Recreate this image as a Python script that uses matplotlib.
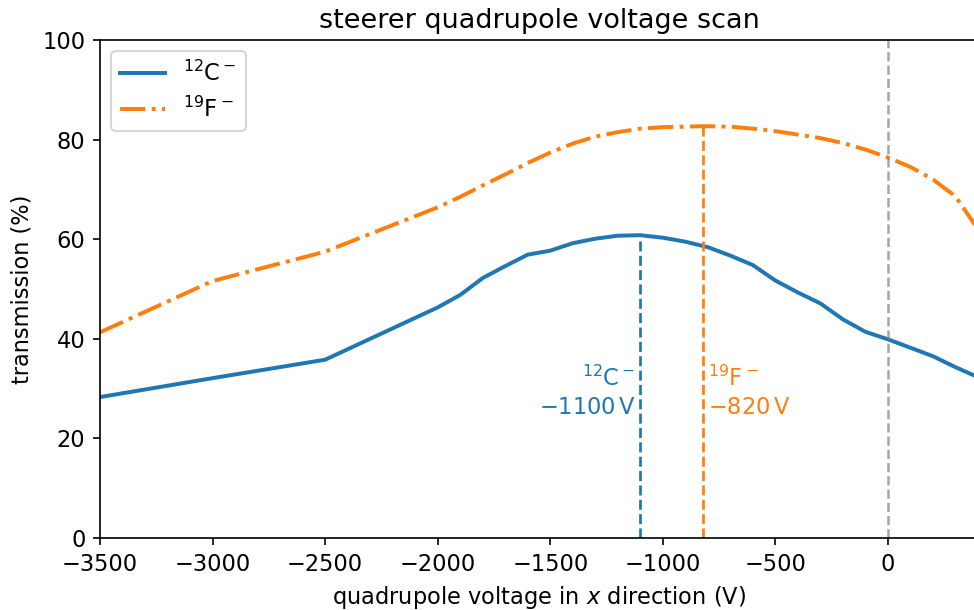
import numpy as np
import matplotlib
matplotlib.use("Agg")
import matplotlib.pyplot as plt

# quadrupole voltage (V) and transmission (%) for each ion species
volt_c = [-3500, -3000, -2500, -2000, -1900, -1800, -1700, -1600, -1500, -1400,
          -1300, -1200, -1100, -1000, -900, -800, -700, -600, -500, -400,
          -300, -200, -100, 0, 100, 200, 300, 400]
trans_c = [28.3, 32.1, 35.8, 46.3, 48.8, 52.2, 54.6, 56.9, 57.7, 59.2,
           60.1, 60.7, 60.8, 60.3, 59.5, 58.4, 56.7, 54.8, 51.7, 49.3,
           47.1, 43.9, 41.4, 39.9, 38.2, 36.5, 34.3, 32.3]

volt_f = [-3500, -3000, -2500, -2000, -1900, -1800, -1700, -1600, -1500, -1400,
          -1300, -1200, -1100, -1000, -900, -820, -700, -600, -500, -400,
          -300, -200, -100, 0, 100, 200, 300, 400]
trans_f = [41.3, 51.6, 57.5, 66.4, 68.5, 70.8, 73.0, 75.3, 77.4, 79.2,
           80.6, 81.5, 82.2, 82.5, 82.6, 82.7, 82.6, 82.2, 81.7, 81.0,
           80.3, 79.3, 78.0, 76.4, 74.5, 72.0, 68.6, 62.0]

labels = [r"$^{12}$C$^-$", r"$^{19}$F$^-$"]

plt.rcParams["font.size"] = 10.8

fig = plt.figure(figsize=(974 / 150, 610 / 150), dpi=150)
ax = fig.add_axes([100 / 974, 72 / 610, 878 / 974, 498 / 610])

ax.plot(volt_c, trans_c, "-", color="C0", lw=1.9, label=labels[0])
ax.plot(volt_f, trans_f, "-.", color="C1", lw=1.9, label=labels[1])

ax.axvline(0, color="gray", ls="--", lw=1.2, alpha=0.7)

# mark the transmission maximum of each species
i_c = int(np.argmax(trans_c))
i_f = int(np.argmax(trans_f))
ax.vlines(volt_c[i_c], 0, trans_c[i_c], colors="C0", linestyles="--", lw=1.3)
ax.vlines(volt_f[i_f], 0, trans_f[i_f], colors="C1", linestyles="--", lw=1.3)
ax.text(volt_c[i_c] - 20, 29.2, labels[0] + "\n" + rf"$-{abs(volt_c[i_c])}\,$V",
        color="C0", ha="right", va="center", linespacing=1.3)
ax.text(volt_f[i_f] + 20, 29.2, labels[1] + "\n" + rf"$-{abs(volt_f[i_f])}\,$V",
        color="C1", ha="left", va="center", linespacing=1.3)

ax.set_xlim(-3500, 400)
ax.set_ylim(0, 100)
ax.set_xlabel(r"quadrupole voltage in $x$ direction (V)")
ax.set_ylabel("transmission (%)")
ax.set_title("steerer quadrupole voltage scan")
ax.legend(loc="upper left")

fig.savefig("out.png", dpi=150)
